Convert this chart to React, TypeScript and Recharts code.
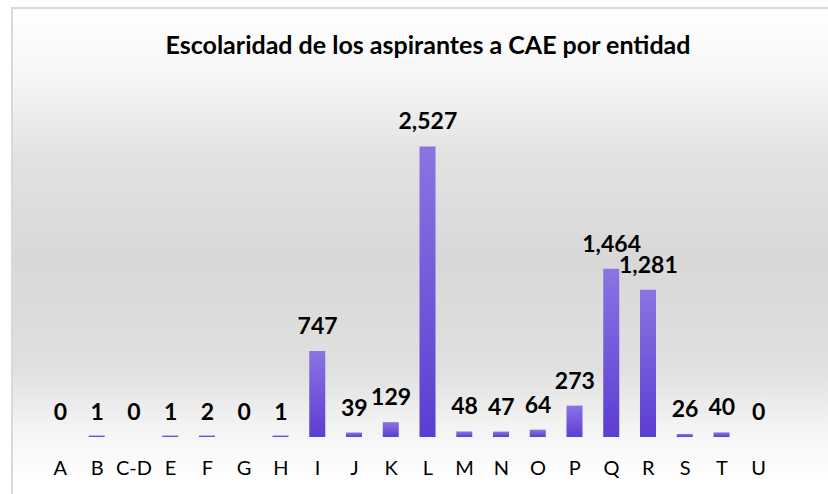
import { ComposedChart, Bar, Line, XAxis, YAxis, LabelList } from "recharts";

const entidades = ["A", "B", "C-D", "E", "F", "G", "H", "I", "J", "K", "L", "M", "N", "O", "P", "Q", "R", "S", "T", "U"];
const aspirantes = [0, 1, 0, 1, 2, 0, 1, 747, 39, 129, 2527, 48, 47, 64, 273, 1464, 1281, 26, 40, 0];

const data = entidades.map((entidad, i) => ({ entidad, valor: aspirantes[i] }));

const fuente = "Lato, 'Open Sans', sans-serif";

export default function App() {
  return (
    <div
      style={{
        position: "absolute",
        left: 0,
        top: 0,
        width: 828,
        height: 494,
        overflow: "hidden",
        background: "#ffffff",
        fontFamily: fuente,
      }}
    >
      {/* marco con degradado gris */}
      <div
        style={{
          position: "absolute",
          left: 11,
          top: 7,
          width: 830,
          height: 500,
          borderTop: "2px solid #d9d9d9",
          borderLeft: "2px solid #d9d9d9",
          background:
            "linear-gradient(to bottom, #ffffff 0%, #f6f6f6 14%, #e2e2e2 30%, #d8d8d8 50%, #e0e0e0 72%, #f4f4f4 84%, #ffffff 94%, #ffffff 100%)",
        }}
      />
      <div
        style={{
          position: "absolute",
          left: 0,
          top: 29,
          width: 856,
          textAlign: "center",
          fontSize: 25,
          lineHeight: "30px",
          fontWeight: 700,
          color: "#000",
        }}
      >
        Escolaridad de los aspirantes a CAE por entidad
      </div>
      <div style={{ position: "absolute", left: 0, top: 0 }}>
        <ComposedChart
          width={828}
          height={494}
          data={data}
          margin={{ top: 115, right: 51, bottom: 27, left: 42 }}
          barSize={16}
        >
          <defs>
            <linearGradient id="morado" x1="0" y1="0" x2="0" y2="1">
              <stop offset="0%" stopColor="#8b74e2" />
              <stop offset="100%" stopColor="#5c3dd2" />
            </linearGradient>
          </defs>
          <XAxis
            dataKey="entidad"
            axisLine={false}
            tickLine={false}
            height={30}
            tickMargin={18}
            interval={0}
            tick={{ fill: "#000", fontSize: 20, fontFamily: fuente }}
          />
          <YAxis hide domain={[0, 2800]} />
          <Bar
            dataKey="valor"
            fill="url(#morado)"
            minPointSize={(v: number) => (v > 0 ? 1.5 : 0)}
            isAnimationActive={false}
          />
          {/* serie invisible solo para las etiquetas (incluye los ceros) */}
          <Line dataKey="valor" stroke="none" dot={false} activeDot={false} isAnimationActive={false}>
            <LabelList
              dataKey="valor"
              position="top"
              offset={17}
              formatter={(v: number) => v.toLocaleString("en-US")}
              style={{ fill: "#000", fontSize: 23, fontWeight: 700, fontFamily: fuente }}
            />
          </Line>
        </ComposedChart>
      </div>
    </div>
  );
}
